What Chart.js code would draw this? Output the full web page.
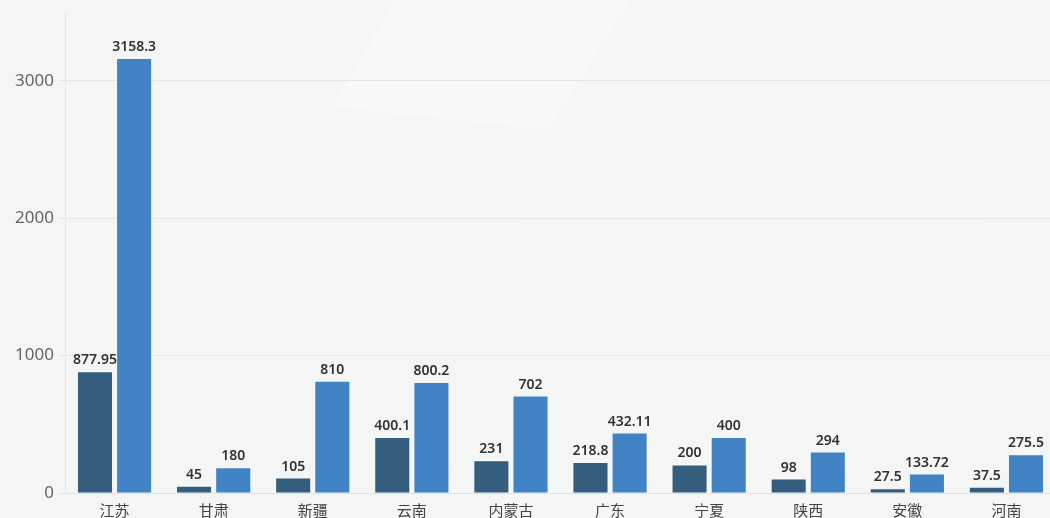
<!DOCTYPE html>
<html><head><meta charset="utf-8">
<script src="https://cdn.jsdelivr.net/npm/chart.js@4"></script>
<style>html,body{margin:0;padding:0;overflow:hidden;background:#f5f6f6;width:1050px;height:518px}
#wrap{position:absolute;left:0;top:0;width:1056px;height:530px}</style>
</head><body><div id="wrap"><canvas id="c" width="1056" height="530"></canvas></div>
<script>
const categories = ['江苏','甘肃','新疆','云南','内蒙古','广东','宁夏','陕西','安徽','河南'];
const series1 = [877.95,45,105,400.1,231,218.8,200,98,27.5,37.5];
const series2 = [3158.3,180,810,800.2,702,432.11,400,294,133.72,275.5];
const yTicks = [0,1000,2000,3000];
const FONT = '"Noto Sans","Noto Sans CJK SC",sans-serif';

const bgPlugin = {
  id:'bg',
  beforeDraw(chart){
    const ctx = chart.ctx;
    ctx.save();
    ctx.fillStyle = '#f4f5f5';
    ctx.fillRect(0,0,chart.width,chart.height);
    ctx.fillStyle = 'rgba(255,255,255,0.3)';
    ctx.beginPath();
    ctx.moveTo(395,0);ctx.lineTo(630,0);ctx.lineTo(548,130);ctx.lineTo(333,107);ctx.closePath();ctx.fill();
    ctx.fillStyle = 'rgba(255,255,255,0.15)';
    ctx.beginPath();
    ctx.moveTo(630,0);ctx.lineTo(1056,0);ctx.lineTo(1056,80);ctx.lineTo(820,518);ctx.lineTo(440,518);ctx.lineTo(548,130);ctx.closePath();ctx.fill();
    ctx.restore();
  }
};
const labelPlugin = {
  id:'vals',
  afterDatasetsDraw(chart){
    const ctx = chart.ctx;
    ctx.save();
    ctx.font = '600 14px ' + FONT;
    ctx.fillStyle = '#333';
    ctx.textAlign = 'center';
    ctx.textBaseline = 'bottom';
    chart.data.datasets.forEach((ds,i)=>{
      chart.getDatasetMeta(i).data.forEach((bar,j)=>{
        ctx.fillText(String(ds.data[j]), bar.x, bar.y - 5);
      });
    });
    ctx.restore();
  }
};
new Chart(document.getElementById('c'),{
  type:'bar',
  data:{labels:categories,datasets:[
    {label:'A',data:series1,backgroundColor:'#345d7e',categoryPercentage:0.79,barPercentage:0.87},
    {label:'B',data:series2,backgroundColor:'#4283c5',categoryPercentage:0.79,barPercentage:0.87}
  ]},
  options:{
    responsive:false,animation:false,
    layout:{padding:{top:12,right:0,left:0,bottom:0}},
    plugins:{legend:{display:false},tooltip:{enabled:false}},
    scales:{
      x:{
        grid:{display:false},
        border:{color:'#e2e2e2'},
        ticks:{font:{family:FONT,size:15},color:'#444',padding:2,maxRotation:0},
        afterFit(s){s.height=37;}
      },
      y:{
        min:0,max:3500,
        afterBuildTicks(s){s.ticks = yTicks.map(v=>({value:v}));},
        grid:{color:'#e6e6e6',tickLength:6,tickColor:'#e6e6e6'},
        border:{color:'#e6e6e6'},
        ticks:{font:{family:FONT,size:17},color:'#666',padding:5,callback:v=>String(v)},
        afterFit(s){s.width=65;s.paddingTop=0;s.paddingBottom=0;}
      }
    }
  },
  plugins:[bgPlugin,labelPlugin]
});
</script></body></html>
